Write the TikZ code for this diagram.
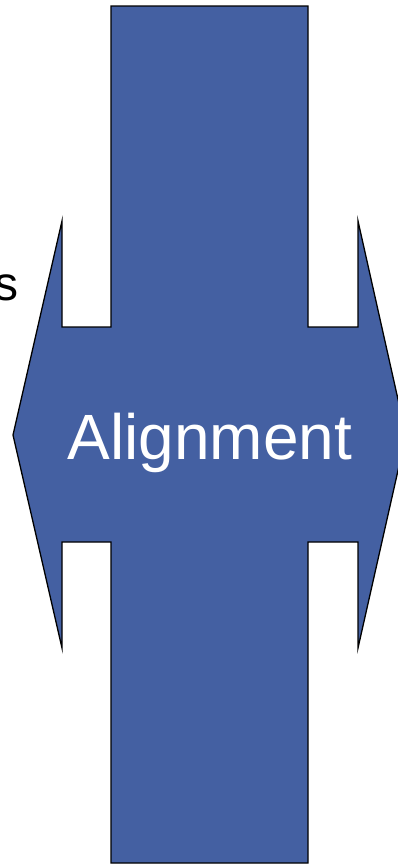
\documentclass[tikz,border=0pt]{standalone}
\usepackage{fontspec}
\setmainfont{Liberation Sans}
\usetikzlibrary{positioning}
\definecolor{AlBlue}{HTML}{4460A2}

\begin{document}
\begin{tikzpicture}[
      x=1pt,y=-1pt,
      cross/.style={draw=black,line width=1.3pt,line join=miter,fill=AlBlue},
      word/.style={inner sep=0pt,font=\fontsize{64}{70}\selectfont,text=white},
      side/.style={inner sep=0pt,font=\fontsize{48}{54}\selectfont,text=black}
    ]
      \useasboundingbox (0,0) rectangle (398,865);
      \clip (0,0) rectangle (398,865);
      % cross made of a vertical bar and a double arrow
      \draw[cross] (111,6) -- (308,6) -- (308,327) -- (358,327) -- (358,221)
        -- (406,435) -- (358,648) -- (358,542) -- (308,542) -- (308,863)
        -- (111,863) -- (111,542) -- (62,542) -- (62,648) -- (13,435)
        -- (62,221) -- (62,327) -- (111,327) -- cycle;
      \node[word,anchor=base] (align) at (210,459) {Alignment};
      \node[side,anchor=base east] (cut) at (19,300) {s};
    \end{tikzpicture}
\end{document}
